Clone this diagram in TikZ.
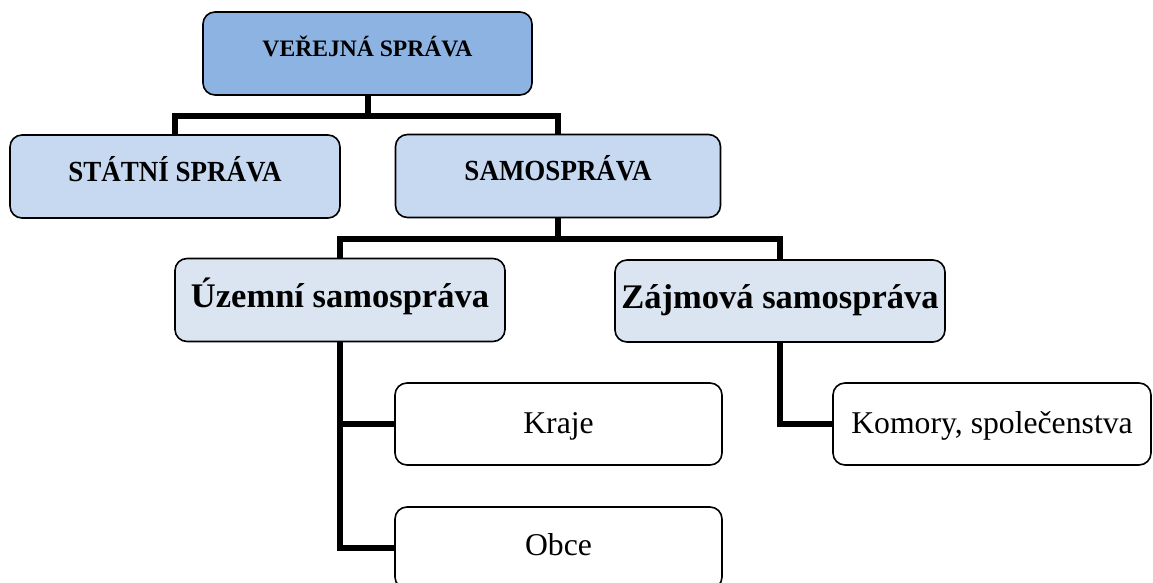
\documentclass[tikz,border=0pt]{standalone}
\usepackage{fontspec}
\setmainfont{Liberation Serif}
\definecolor{topblue}{HTML}{8DB3E2}
\definecolor{midblue}{HTML}{C6D9F1}
\definecolor{lowblue}{HTML}{DBE5F1}
\begin{document}
\begin{tikzpicture}[x=1pt,y=-1pt,
  box/.style={draw=black,line width=1.6pt,rounded corners=12pt,inner sep=0pt,
    align=center,text depth=0pt},
  % baseline offset below the box centre: text height = 2*offset
  lvlA/.style={box,fill=topblue,minimum width=329pt,minimum height=83pt,
    font=\fontsize{23.6}{28}\selectfont\bfseries},
  lvlB/.style={box,fill=midblue,minimum width=328pt,minimum height=83pt,
    font=\fontsize{27}{32}\selectfont\bfseries},
  lvlC/.style={box,fill=lowblue,minimum width=330pt,minimum height=83pt,
    font=\fontsize{34.5}{40}\selectfont\bfseries},
  leaf/.style={box,fill=white,minimum height=82pt,
    font=\fontsize{31.7}{38}\selectfont},
  link/.style={line width=6pt,line join=miter,line cap=butt},
]
\useasboundingbox (0,0) rectangle (1153,583);
\clip (0,0) rectangle (1153,583);

% junction points of the tree links
\coordinate (j1) at (368,116);
\coordinate (j2) at (559,239);

% boxes
\node[lvlA,text height=7pt] (vs) at (367.5,53.5) {VEŘEJNÁ SPRÁVA};
\node[lvlB,text height=9pt,minimum width=330pt] (ss) at (175,176.5) {\scalebox{1}[1.08]{STÁTNÍ SPRÁVA}};
\node[lvlB,text height=9pt,minimum width=325pt] (sam) at (558,176) {\scalebox{1}[1.08]{SAMOSPRÁVA}};
\node[lvlC,text height=14pt] (uz) at (340,300) {Územní samospráva};
\node[lvlC,text height=14pt,minimum height=82pt] (za) at (780,301) {Zájmová samospráva};
\node[leaf,text height=18pt,minimum width=327pt] (kr) at (558.5,424) {Kraje};
\node[leaf,text height=14pt,minimum width=327pt] (ob) at (558.5,548) {Obce};
\node[leaf,text height=18pt,minimum width=318pt] (ko) at (992,424) {Komory, společenstva};

% tree links
\draw[link] (vs.south) -- (vs.south |- j1);
\draw[link] (ss.north) |- (j1) -| (sam.north);
\draw[link] (sam.south) -- (sam.south |- j2);
\draw[link] (uz.north) |- (j2) -| (za.north);
\draw[link] (uz.south) |- (ob.west);
\draw[link] (uz.south |- kr.west) -- (kr.west);
\draw[link] (za.south) |- (ko.west);
\end{tikzpicture}
\end{document}
